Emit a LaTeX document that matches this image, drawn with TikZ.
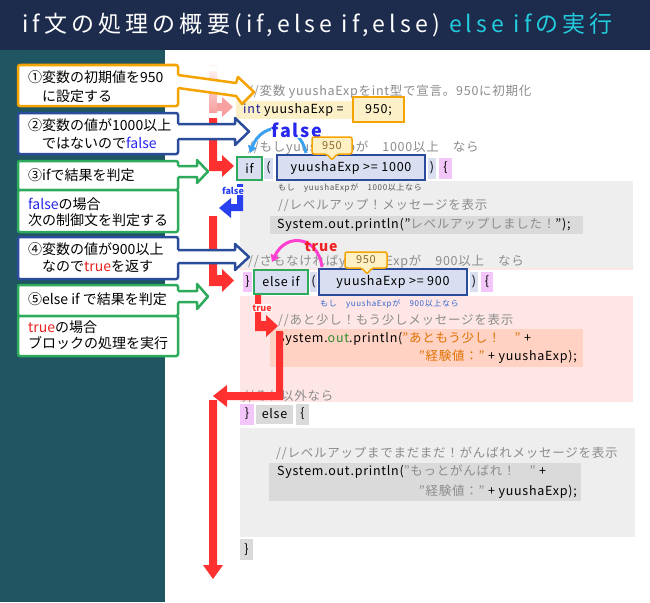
\documentclass[tikz,border=0pt]{standalone}
\usepackage{fontspec}
\setmainfont{Noto Sans CJK JP}
\usetikzlibrary{arrows.meta}
\definecolor{titlebg}{HTML}{1D2B4D}
\definecolor{tealbg}{HTML}{1F5661}
\definecolor{cyanT}{HTML}{22CCDD}
\definecolor{orC}{HTML}{F5A300}
\definecolor{navyC}{HTML}{2B4C9B}
\definecolor{grC}{HTML}{2EAA5C}
\definecolor{fblue}{HTML}{2626EE}
\definecolor{tred}{HTML}{EE2222}
\definecolor{redA}{HTML}{FF3030}
\definecolor{pinkA}{HTML}{F7A0A0}
\definecolor{blueA}{HTML}{2840F0}
\definecolor{lblue}{HTML}{3BA0F0}
\definecolor{magA}{HTML}{FF3FD0}
\definecolor{yelbg}{HTML}{FBF0C8}
\definecolor{calbg}{HTML}{FFF1C4}
\definecolor{caltx}{HTML}{8A6A30}
\definecolor{lav}{HTML}{D9DEF0}
\definecolor{brpink}{HTML}{F2C6F8}
\definecolor{gblock}{HTML}{EEEEEE}
\definecolor{gline}{HTML}{DADADA}
\definecolor{pblock}{HTML}{FFE6E6}
\definecolor{salmon}{HTML}{FFD2C4}
\definecolor{cmt}{HTML}{8C8C8C}
\definecolor{intc}{HTML}{1A1A9A}
\definecolor{outc}{HTML}{2E8B2E}
\definecolor{strc}{HTML}{E07000}
\definecolor{smalltx}{HTML}{555555}
\definecolor{smallbl}{HTML}{3366CC}
\newcommand{\harr}[9]{%
  \fill[white] (#2-2,#3) -- (#5,#3) -- (#5,#6) -- (#8,#9) -- (#5,#7) -- (#5,#4) -- (#2-2,#4) -- cycle;
  \draw[#1, line width=2.5pt, line join=round] (#2,#3) -- (#5,#3) -- (#5,#6) -- (#8,#9) -- (#5,#7) -- (#5,#4) -- (#2,#4);
}
\begin{document}
\begin{tikzpicture}[x=1pt,y=-1pt,
  txt/.style={inner sep=0pt, anchor=west, text=black, font=\fontsize{14}{16}\selectfont},
  code/.style={inner sep=0pt, anchor=west, text=black, font=\fontsize{12.5}{14}\selectfont\addfontfeatures{LetterSpace=6}},
  cmnt/.style={code, text=cmt},
  small/.style={inner sep=0pt, anchor=west, font=\fontsize{8}{9}\selectfont\addfontfeatures{LetterSpace=8}},
  cbox/.style={line width=2.5pt, fill=white, rounded corners=2pt},
  kbox/.style={line width=2.5pt, fill=lav},
  callout/.style={draw=orC, line width=1.5pt, fill=calbg, rounded corners=2pt},
  calltx/.style={inner sep=0pt, text=caltx, font=\fontsize{11}{12}\selectfont\addfontfeatures{LetterSpace=6}},
  lbl/.style={inner sep=0.6pt, fill=white, font=\bfseries\fontsize{9}{10}\selectfont}]
\useasboundingbox (0,0) rectangle (650,602);
% backgrounds
\fill[titlebg] (0,0) rectangle (650,50);
\fill[tealbg] (0,50) rectangle (165,602);
\fill[white] (165,50) rectangle (650,602);
\node[anchor=west, inner sep=0pt, text=white, font=\fontsize{23}{25}\selectfont\addfontfeatures{LetterSpace=18}] (title) at (22,25) {if文の処理の概要(if,else if,else) \textcolor{cyanT}{else ifの実行}};

% ---------- code area ----------
\node[cmnt] (c1) at (248,92) {//変数 yuushaExpをint型で宣言。950に初期化};
\fill[yelbg] (236,101) rectangle (353,119);
\node[code] (c2) at (243,110) {\textcolor{intc}{int} yuushaExp =};
\draw[orC, line width=2.5pt, fill=yelbg] (353,97) rectangle (404,122);
\node[code, anchor=center] (c2v) at (378.5,110) {950;};

\node[cmnt] (c3) at (248,148) {//もしyuushaExpが　1000以上　なら};

% if row
\draw[grC, kbox] (237,157) rectangle (262,180);
\node[code, anchor=center] (kif) at (249.5,168.5) {if};
\fill[lav] (264,158) rectangle (273,179);
\node[code, anchor=center] (p1) at (268.5,168) {(};
\draw[navyC, kbox] (277,155) rectangle (425,180);
\node[code, anchor=center] (cond1) at (351,168) {yuushaExp >= 1000};
\fill[lav] (428,158) rectangle (436,179);
\node[code, anchor=center] (p2) at (432,168) {)};
\fill[brpink] (439,158) rectangle (452,179);
\node[code, anchor=center] (b1) at (445.5,168) {\{};

% gray block 1
\fill[gblock] (240,181) rectangle (633,268);
\fill[pblock] (240,268) rectangle (633,270);
\node[small, text=smalltx] (s1) at (278,188) {もし　yuushaExpが　1000以上なら};
\node[cmnt] (c4) at (278,205) {//レベルアップ！メッセージを表示};
\fill[gline] (270,216) rectangle (583,234);
\node[code] (c5) at (277,225) {System.out.println("\textcolor{cmt}{レベルアップしました！}");};
\node[cmnt] (c6) at (248,262) {//さもなければyuushaExpが　900以上　なら};

% else if row
\fill[brpink] (243,272) rectangle (252,292);
\node[code, anchor=center] (b2) at (247.5,282) {\}};
\draw[grC, kbox] (254,270) rectangle (308,294);
\node[code, anchor=center] (kelif) at (281,282) {else if};
\fill[lav] (310,272) rectangle (317,292);
\node[code, anchor=center] (p3) at (313.5,282) {(};
\draw[navyC, kbox] (319,269) rectangle (467,295);
\node[code, anchor=center] (cond2) at (393,282) {yuushaExp >= 900};
\fill[lav] (470,272) rectangle (478,292);
\node[code, anchor=center] (p4) at (474,282) {)};
\fill[brpink] (481,272) rectangle (493,292);
\node[code, anchor=center] (b3) at (487,282) {\{};

% pink block
\fill[pblock] (240,296) rectangle (633,402);
\node[small, text=smallbl] (s2) at (320,304) {もし　yuushaExpが　900以上なら};
\node[cmnt] (c7) at (278,320) {//あと少し！もう少しメッセージを表示};
\fill[salmon] (270,329) rectangle (583,367);
\node[code] (c8) at (277,339) {System.\textcolor{outc}{out}.println(\textcolor{strc}{"あともう少し！　"} +};
\node[code, anchor=east] (c9) at (577,357) {\textcolor{strc}{"経験値："} + yuushaExp);};
\node[cmnt] (c10) at (243,396) {//それ以外なら};

% else row
\fill[brpink] (240,404) rectangle (254,425);
\node[code, anchor=center] (b4) at (247,414) {\}};
\fill[gline] (256,405) rectangle (293,424);
\node[code, anchor=center] (kelse) at (274.5,414) {else};
\fill[gline] (296,404) rectangle (309,425);
\node[code, anchor=center] (b5) at (302.5,414) {\{};
\fill[gblock] (240,428) rectangle (635,537);
\node[cmnt] (c11) at (276,453) {//レベルアップまでまだまだ！がんばれメッセージを表示};
\fill[gline] (269,463) rectangle (581,501);
\node[code] (c12) at (277,472) {System.out.println(\textcolor{cmt}{"もっとがんばれ！　"} +};
\node[code, anchor=east] (c13) at (577,492) {\textcolor{cmt}{"経験値："} + yuushaExp);};
\fill[gline] (240,539) rectangle (253,560);
\node[code, anchor=center] (b6) at (246.5,549.5) {\}};

% ---------- flow arrows ----------
% faded pink arrow
\shade[top color=white, bottom color=pinkA] (209,62) rectangle (217,112);
\fill[white] (209,67) rectangle (217,71);
\fill[white] (209,79) rectangle (217,82);
\fill[pinkA] (217,103) -- (222,103) -- (222,97) -- (233,107) -- (222,117) -- (222,111) -- (217,111) -- cycle;
% red arrow to if
\fill[redA] (209,118) -- (217,118) -- (217,161) -- (222,161) -- (222,155) -- (234,166) -- (222,177) -- (222,171) -- (209,171) -- cycle;
% blue false arrow
\fill[blueA] (237,184) -- (243,184) -- (243,211) -- (231,211) -- (231,218) -- (219,208) -- (231,198) -- (231,204) -- (237,204) -- cycle;
\node[lbl, text=blueA] (lf) at (233,191) {false};
% red arrow to else if
\fill[redA] (209,216) -- (217,216) -- (217,275) -- (222,275) -- (222,269) -- (234,280.5) -- (222,292) -- (222,286) -- (209,286) -- cycle;
% red true arrow
\fill[redA] (255,295) -- (261,295) -- (261,321) -- (266,321) -- (266,315) -- (278,326) -- (266,337) -- (266,331) -- (255,331) -- cycle;
\node[lbl, text=redA] (lt) at (262,308) {true};
% red L arrow
\fill[redA] (276,331) -- (283,331) -- (283,400) -- (227,400) -- (227,407) -- (213,396) -- (227,385) -- (227,392) -- (276,392) -- cycle;
% final red down arrow
\fill[redA] (209,400) -- (217,400) -- (217,565) -- (223,565) -- (213,579) -- (203,565) -- (209,565) -- cycle;

% curved arrows
\draw[lblue, line width=3pt, -{Triangle[length=7pt,width=9pt]}] (306,153) .. controls (300,122) and (262,120) .. (250,153);
\node[inner sep=0.5pt, fill=white, text=fblue, font=\bfseries\fontsize{18}{19}\selectfont\addfontfeatures{LetterSpace=10}] (lfalse) at (297,130) {false};
\draw[magA, line width=3pt, -{Triangle[length=7pt,width=9pt]}] (322,267) .. controls (318,236) and (286,232) .. (272,262);
\node[inner sep=0.5pt, text=tred, font=\bfseries\fontsize{14}{15}\selectfont\addfontfeatures{LetterSpace=6}] (ltrue) at (321,247) {true};

% 950 callouts
\draw[callout] (312,137) -- (352,137) -- (352,154) -- (337,154) -- (332,160) -- (327,154) -- (312,154) -- cycle;
\node[calltx] (v1) at (332,145.5) {950};
\draw[callout] (345,252) -- (387,252) -- (387,268) -- (372,268) -- (367,274) -- (362,268) -- (345,268) -- cycle;
\node[calltx] (v2) at (366,260) {950};

% ---------- left callout boxes ----------
\draw[orC, cbox] (18,65) rectangle (178,106);
\fill[white] (176,75) -- (236,83) -- (238,77) -- (254,92) -- (242,104) -- (236,96) -- (176,88) -- cycle;
\draw[orC, line width=2.5pt, line join=round] (178,75) -- (236,83) -- (238,77) -- (254,92) -- (242,104) -- (236,96) -- (178,88);
\node[txt] (t1a) at (28,77) {①変数の初期値を950};
\node[txt] (t1b) at (28,96) {　に設定する};

\draw[navyC, cbox] (18,113) rectangle (178,154);
\harr{navyC}{178}{124}{139}{235}{118}{145}{249}{131.5}
\node[txt] (t2a) at (28,125) {②変数の値が1000以上};
\node[txt] (t2b) at (28,143) {　ではないので\textcolor{fblue}{false}};

\draw[grC, cbox] (18,161) rectangle (178,190);
\draw[grC, cbox] (18,190) rectangle (178,232);
\harr{grC}{178}{166}{177}{197}{160}{183}{208}{171.5}
\node[txt] (t3a) at (28,175) {③ifで結果を判定};
\node[txt] (t3b) at (28,204) {\textcolor{fblue}{false}の場合};
\node[txt] (t3c) at (28,220) {次の制御文を判定する};

\draw[navyC, cbox] (18,237) rectangle (178,279);
\harr{navyC}{178}{250}{263}{235}{244}{270}{249}{257}
\node[txt] (t4a) at (28,249) {④変数の値が900以上};
\node[txt] (t4b) at (28,266) {　なので\textcolor{tred}{true}を返す};

\draw[grC, cbox] (18,285) rectangle (178,316);
\draw[grC, cbox] (18,316) rectangle (178,356);
\harr{grC}{178}{291}{302}{197}{284}{309}{208}{296.5}
\node[txt] (t5a) at (28,299) {⑤else if で結果を判定};
\node[txt] (t5b) at (28,327) {\textcolor{tred}{true}の場合};
\node[txt] (t5c) at (28,343) {ブロックの処理を実行};
\end{tikzpicture}
\end{document}
